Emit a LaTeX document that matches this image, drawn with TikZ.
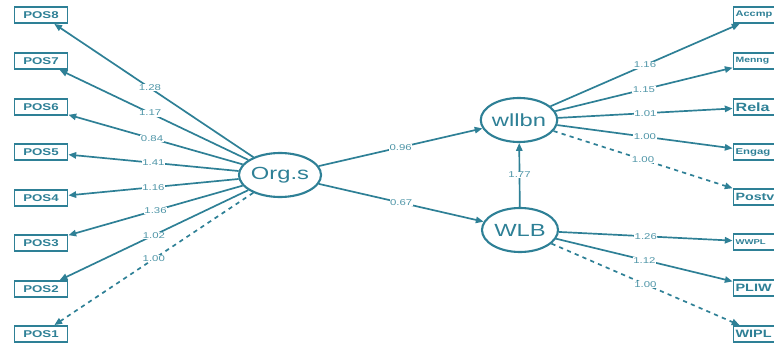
\documentclass[tikz,border=0pt]{standalone}
\usepackage{fontspec}
\setmainfont{Liberation Sans}[FakeStretch=1.35]
\usetikzlibrary{shapes.geometric, arrows.meta, positioning}
\definecolor{semteal}{RGB}{46,128,150}
\definecolor{semlbl}{RGB}{80,150,168}

\begin{document}
\begin{tikzpicture}[
    x=0.025cm, y=-0.025cm,
    latent/.style={ellipse, draw=semteal, line width=1.5pt, minimum width=1.9cm, minimum height=1.1cm, inner sep=0pt, text=semteal, font=\fontsize{12.5}{14}\selectfont},
    manif/.style={rectangle, draw=semteal, line width=1.3pt, minimum width=1.325cm, minimum height=0.4cm, inner sep=2pt, text=semteal, font=\bfseries\fontsize{7}{8}\selectfont},
    manifr/.style={manif, text width=1.22cm, inner sep=1.5pt, align=left},
    path/.style={draw=semteal, line width=1.2pt, -{Triangle[length=5.5pt,width=4.5pt]}},
    fixpath/.style={path, dashed},
    lbl/.style={fill=white, inner sep=0.4pt, text=semlbl, font=\fontsize{6}{7}\selectfont}
]
    \useasboundingbox[fill=white] (0,0) rectangle (774,347);

    % latent variables
    \node[latent] (orgs) at (280,175) {Org.s};
    \node[latent] (wllbn) at (519,120) {wllbn};
    \node[latent] (wlb) at (520,230) {WLB};

    % indicators of Org.s
    \node[manif] (pos8) at (41,15) {POS8};
    \node[manif] (pos7) at (41,61) {POS7};
    \node[manif] (pos6) at (41,107) {POS6};
    \node[manif] (pos5) at (41,152) {POS5};
    \node[manif] (pos4) at (41,198) {POS4};
    \node[manif] (pos3) at (41,243) {POS3};
    \node[manif] (pos2) at (41,289) {POS2};
    \node[manif] (pos1) at (41,334) {POS1};

    % indicators of wllbn and WLB
    \node[manifr, font=\bfseries\fontsize{5.8}{7}\selectfont] (accmp) at (760,15) {Accmp};
    \node[manifr, font=\bfseries\fontsize{5.5}{6}\selectfont] (menng) at (760,61) {Menng};
    \node[manifr, font=\bfseries\fontsize{8.5}{9}\selectfont] (rela) at (760,107) {Rela};
    \node[manifr, font=\bfseries\fontsize{6}{7}\selectfont] (engag) at (760,152) {Engag};
    \node[manifr, font=\bfseries\fontsize{7.5}{8}\selectfont] (postv) at (760,197) {Postv};
    \node[manifr, font=\bfseries\fontsize{5}{6}\selectfont] (wwpl) at (760,242) {WWPL};
    \node[manifr, font=\bfseries\fontsize{7.6}{9}\selectfont] (pliw) at (760,288) {PLIW};
    \node[manifr, font=\bfseries\fontsize{7.6}{9}\selectfont] (wipl) at (760,334) {WIPL};

    % loadings
    \draw[path] (orgs) -- (pos8) node[lbl, pos=0.52] {1.28};
    \draw[path] (orgs) -- (pos7) node[lbl, pos=0.52] {1.17};
    \draw[path] (orgs) -- (pos6) node[lbl, pos=0.52] {0.84};
    \draw[path] (orgs) -- (pos5) node[lbl, pos=0.5] {1.41};
    \draw[path] (orgs) -- (pos4) node[lbl, pos=0.5] {1.16};
    \draw[path] (orgs) -- (pos3) node[lbl, pos=0.5] {1.36};
    \draw[path] (orgs) -- (pos2) node[lbl, pos=0.5] {1.02};
    \draw[fixpath] (orgs) -- (pos1) node[lbl, pos=0.5] {1.00};

    \draw[path] (wllbn) -- (accmp) node[lbl, pos=0.5] {1.16};
    \draw[path] (wllbn) -- (menng) node[lbl, pos=0.5] {1.15};
    \draw[path] (wllbn) -- (rela) node[lbl, pos=0.5] {1.01};
    \draw[path] (wllbn) -- (engag) node[lbl, pos=0.5] {1.00};
    \draw[fixpath] (wllbn) -- (postv) node[lbl, pos=0.5] {1.00};

    \draw[path] (wlb) -- (wwpl) node[lbl, pos=0.5] {1.26};
    \draw[path] (wlb) -- (pliw) node[lbl, pos=0.5] {1.12};
    \draw[fixpath] (wlb) -- (wipl) node[lbl, pos=0.5] {1.00};

    % structural paths
    \draw[path] (orgs) -- (wllbn) node[lbl, pos=0.5] {0.96};
    \draw[path] (orgs) -- (wlb) node[lbl, pos=0.5] {0.67};
    \draw[path] (wlb) -- (wllbn) node[lbl, pos=0.5] {1.77};
\end{tikzpicture}
\end{document}
